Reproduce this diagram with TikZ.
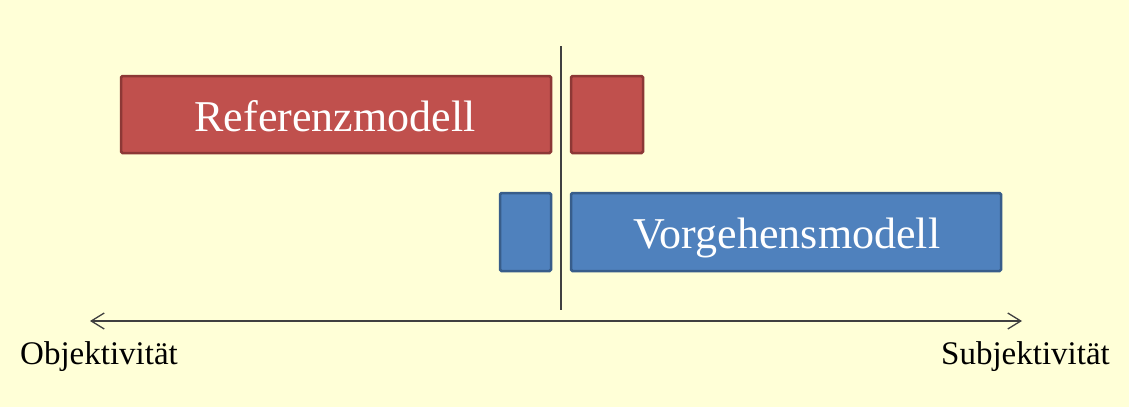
\documentclass[tikz,border=0pt]{standalone}
\usepackage{fontspec}
\setmainfont{Liberation Serif}
\usetikzlibrary{arrows.meta,positioning}
\definecolor{paperyellow}{HTML}{FFFFD7}
\definecolor{modelred}{HTML}{C0504D}
\definecolor{modelredline}{HTML}{8C3836}
\definecolor{modelblue}{HTML}{4F81BD}
\definecolor{modelblueline}{HTML}{385D8A}
\definecolor{axisgray}{HTML}{404040}
\tikzset{
  redbox/.style={draw=modelredline, fill=modelred, line width=2.5pt, rounded corners=1.5pt, inner sep=0pt},
  bluebox/.style={draw=modelblueline, fill=modelblue, line width=2.5pt, rounded corners=1.5pt, inner sep=0pt},
  boxtext/.style={text=white, inner sep=0pt, anchor=base, font=\fontsize{44}{50}\selectfont},
  scaleline/.style={axisgray, line width=1.3pt, {Straight Barb[length=13pt,width=16pt]}-{Straight Barb[length=13pt,width=16pt]}},
  divider/.style={axisgray, line width=1.5pt},
  endlabel/.style={inner sep=0pt, font=\fontsize{33}{38}\selectfont}
}
\begin{document}
\begin{tikzpicture}[x=1pt,y=-1pt]
  \fill[paperyellow] (0,0) rectangle (1129,407);
  \useasboundingbox (0,0) rectangle (1129,407);
  % model boxes left and right of the divider
  \node[redbox, minimum width=430pt, minimum height=77pt] (refmodel) at (336,114.5) {};
  \node[redbox, minimum width=72pt, minimum height=77pt] (refrest) at (607,114.5) {};
  \node[bluebox, minimum width=51pt, minimum height=78pt] (vorrest) at (525.5,232) {};
  \node[bluebox, minimum width=430pt, minimum height=78pt] (vormodel) at (786,232) {};
  \node[boxtext] (reftext) at (335,131) {Referenzmodell};
  \node[boxtext] (vortext) at (787,248) {Vorgehensmodell};
  % divider and scale
  \coordinate (divtop) at (561,46);
  \coordinate (divbot) at (561,310);
  \draw[divider] (divtop) -- (divbot);
  \coordinate (objend) at (90,321);
  \coordinate (subjend) at (1022,321);
  \draw[scaleline] (objend) -- (subjend);
  \node[endlabel, anchor=base west] (objlabel) at (20,364) {Objektivität};
  \node[endlabel, anchor=base east] (subjlabel) at (1110,364) {Subjektivität};
\end{tikzpicture}
\end{document}
